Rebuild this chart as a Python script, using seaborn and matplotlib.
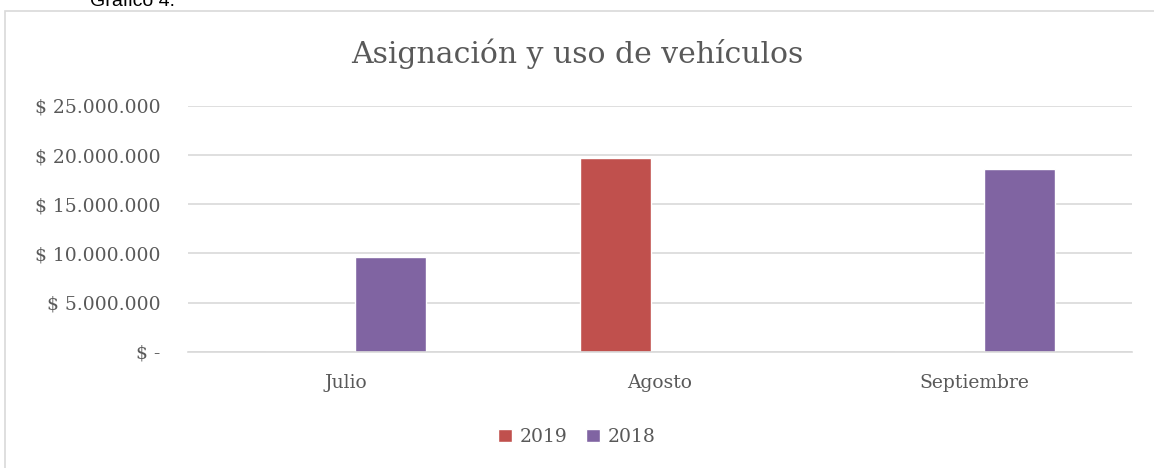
import numpy as np
import pandas as pd
import matplotlib
matplotlib.use("Agg")
import matplotlib.pyplot as plt
from matplotlib.ticker import FuncFormatter, MultipleLocator
from matplotlib.patches import Rectangle, Patch
import seaborn as sns

# Data
meses = ["Julio", "Agosto", "Septiembre"]
valores_2019 = [0, 19650000, 0]
valores_2018 = [9600000, 0, 18600000]
series = ["2019", "2018"]
colores = {"2019": "#C0504D", "2018": "#8064A2"}

df = pd.DataFrame({
    "mes": meses * 2,
    "anio": ["2019"] * 3 + ["2018"] * 3,
    "valor": valores_2019 + valores_2018,
})

sns.set_theme(style="white")
plt.rcParams["font.family"] = ["DejaVu Serif"]
gris = "#595959"

fig = plt.figure(figsize=(11.54, 4.68), dpi=100)
ax = fig.add_axes([0.163, 0.248, 0.818, 0.526])

sns.barplot(data=df, x="mes", y="valor", hue="anio", hue_order=series,
            order=meses, palette=colores, width=0.572, gap=0.213,
            saturation=1, legend=False, ax=ax)

ax.set_ylim(0, 25000000)
ax.set_xlim(-0.5, 2.5)
ax.yaxis.set_major_locator(MultipleLocator(5000000))


def fmt_peso(v, pos):
    if v == 0:
        return "$ -"
    return "$ " + f"{v:,.0f}".replace(",", ".")


ax.yaxis.set_major_formatter(FuncFormatter(fmt_peso))
ax.grid(axis="y", color="#D9D9D9", linewidth=1.2)
ax.set_axisbelow(True)
for s in ["top", "right", "left"]:
    ax.spines[s].set_visible(False)
ax.spines["bottom"].set_color("#D9D9D9")
ax.spines["bottom"].set_linewidth(1.2)
ax.tick_params(axis="y", labelsize=13.5, colors=gris, length=0, pad=20)
ax.tick_params(axis="x", labelsize=13.5, colors=gris, length=0, pad=16)
ax.set_xlabel("")
ax.set_ylabel("")

fig.text(0.5, 0.885, "Asignación y uso de vehículos", ha="center", va="center",
         fontsize=21.5, color=gris)

handles = [Patch(facecolor=colores[s], label=s) for s in series]
fig.legend(handles=handles, loc="center", bbox_to_anchor=(0.5, 0.066), ncol=2,
           frameon=False, fontsize=13.5, labelcolor=gris, handlelength=0.75,
           handleheight=0.75, handletextpad=0.4, columnspacing=1.0)

# chart border and caption above it
fig.patches.append(Rectangle((4.5 / 1154, -0.01), 1.2, 1 - 10.5 / 468 + 0.01,
                             transform=fig.transFigure, fill=False,
                             edgecolor="#D9D9D9", linewidth=1.2))
fig.text(90 / 1154, 1 - 6 / 468, "Gráfico 4.", ha="left", va="baseline",
         fontsize=14, color="black", family=["Liberation Sans", "DejaVu Sans"])

fig.savefig("out.png", dpi=100)
